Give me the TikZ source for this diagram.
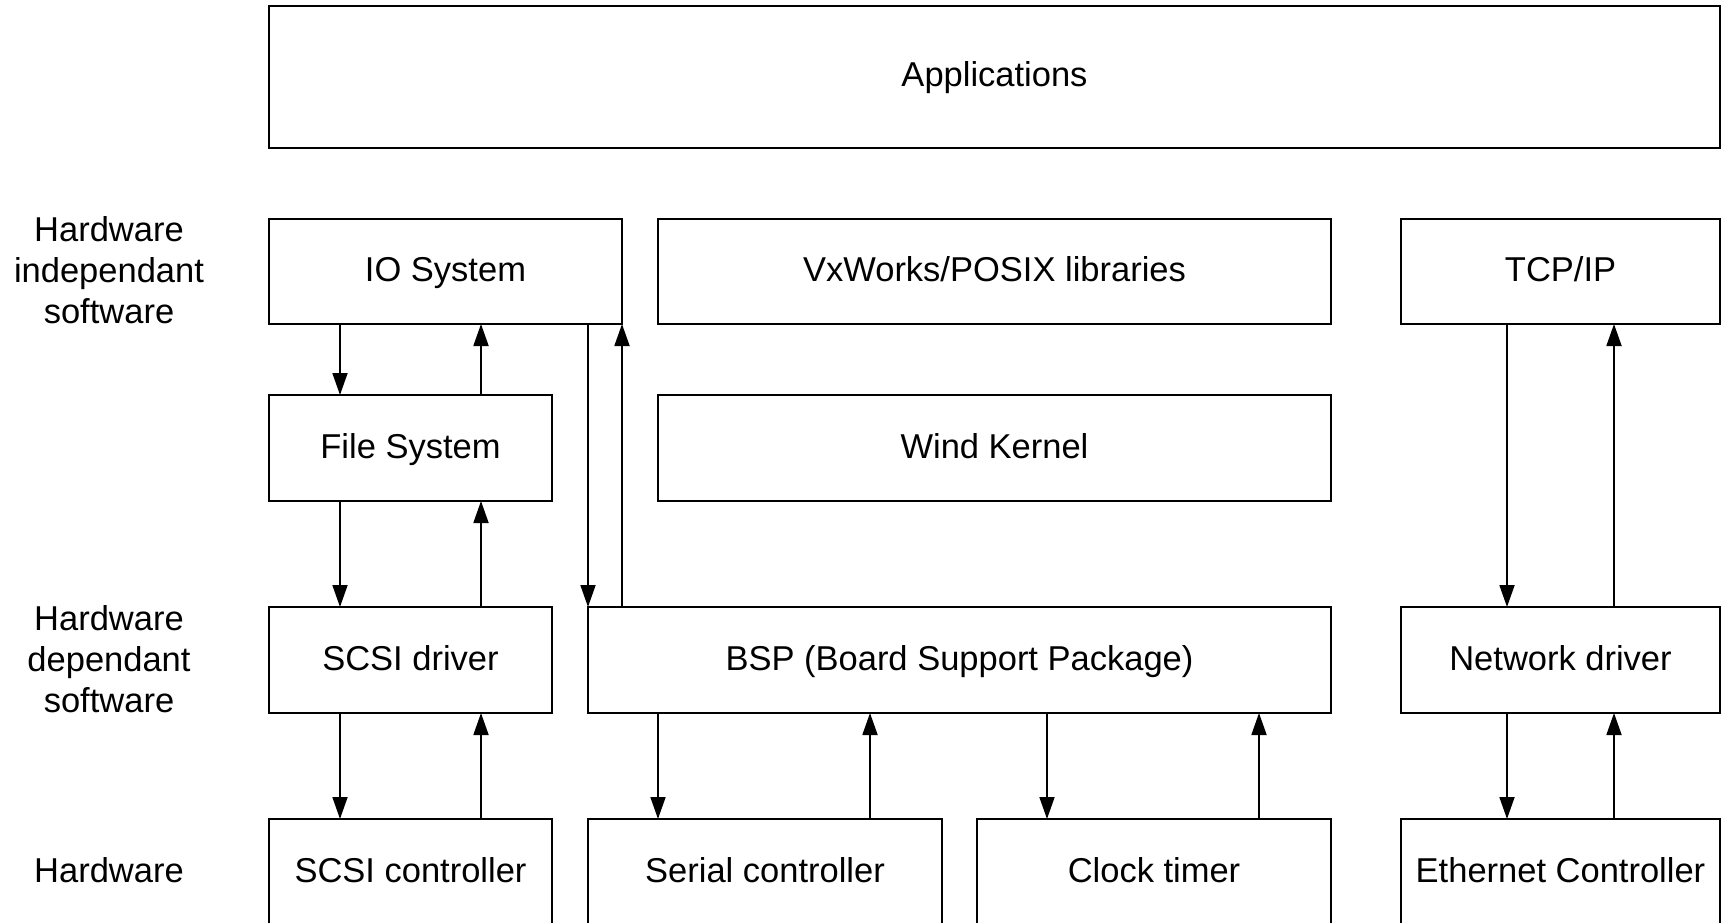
\documentclass[tikz,border=0pt]{standalone}
\usepackage{fontspec}
\setmainfont{Liberation Sans}
\usetikzlibrary{arrows.meta}
\begin{document}
\begin{tikzpicture}[x=1pt,y=-1pt,
  box/.style={draw, line width=1.8pt, inner sep=0pt, outer sep=0pt, minimum height=106pt, text height=26pt, text depth=6pt, font=\fontsize{34.5}{41}\selectfont},
  lbl/.style={align=center, inner sep=0pt, font=\fontsize{34.5}{41}\selectfont},
  arr/.style={line width=1.8pt, -{Triangle[length=22pt,width=15pt]}}]
\useasboundingbox (0,0) rectangle (1725,923);
% top
\node[box, minimum width=1451pt, minimum height=142pt] (apps) at (994.5,77) {Applications};
% row 2
\node[box, minimum width=353pt, minimum height=105pt] (io) at (445.5,271.5) {IO System};
\node[box, minimum width=673pt, minimum height=105pt] (vx) at (994.5,271.5) {VxWorks/POSIX libraries};
\node[box, minimum width=319pt, minimum height=105pt] (tcp) at (1560.5,271.5) {TCP/IP};
% row 3
\node[box, minimum width=283pt] (fs) at (410.5,448) {File System};
\node[box, minimum width=673pt] (wind) at (994.5,448) {Wind Kernel};
% row 4
\node[box, minimum width=283pt] (scsid) at (410.5,660) {SCSI driver};
\node[box, minimum width=743pt] (bsp) at (959.5,660) {BSP (Board Support Package)};
\node[box, minimum width=319pt] (net) at (1560.5,660) {Network driver};
% row 5
\node[box, minimum width=283pt] (scsic) at (410.5,872) {SCSI controller};
\node[box, minimum width=354pt] (serial) at (765,872) {Serial controller};
\node[box, minimum width=354pt] (clock) at (1154,872) {Clock timer};
\node[box, minimum width=319pt] (eth) at (1560.5,872) {Ethernet Controller};
% side labels
\node[lbl] (l1) at (109,270) {Hardware\\independant\\software};
\node[lbl] (l2) at (109,659) {Hardware\\dependant\\software};
\node[lbl] (l3) at (109,870) {Hardware};
% arrows left column
\draw[arr] ([xshift=71pt]io.south west) -- ([xshift=71pt]fs.north west);
\draw[arr] ([xshift=212pt]fs.north west) -- ([xshift=212pt]io.south west);
\draw[arr] ([xshift=71pt]fs.south west) -- ([xshift=71pt]scsid.north west);
\draw[arr] ([xshift=212pt]scsid.north west) -- ([xshift=212pt]fs.south west);
\draw[arr] ([xshift=71pt]scsid.south west) -- ([xshift=71pt]scsic.north west);
\draw[arr] ([xshift=212pt]scsic.north west) -- ([xshift=212pt]scsid.south west);
% IO <-> BSP
\draw[arr] (bsp.north west |- io.south) -- (bsp.north west);
\draw[arr] (io.south east |- bsp.north) -- (io.south east);
% BSP <-> serial, clock
\draw[arr] ([xshift=70pt]serial.north west |- bsp.south) -- ([xshift=70pt]serial.north west);
\draw[arr] ([xshift=282pt]serial.north west) -- ([xshift=282pt]serial.north west |- bsp.south);
\draw[arr] ([xshift=70pt]clock.north west |- bsp.south) -- ([xshift=70pt]clock.north west);
\draw[arr] ([xshift=282pt]clock.north west) -- ([xshift=282pt]clock.north west |- bsp.south);
% network column
\draw[arr] ([xshift=106pt]tcp.south west) -- ([xshift=106pt]net.north west);
\draw[arr] ([xshift=213pt]net.north west) -- ([xshift=213pt]tcp.south west);
\draw[arr] ([xshift=106pt]net.south west) -- ([xshift=106pt]eth.north west);
\draw[arr] ([xshift=213pt]eth.north west) -- ([xshift=213pt]net.south west);
\end{tikzpicture}
\end{document}
